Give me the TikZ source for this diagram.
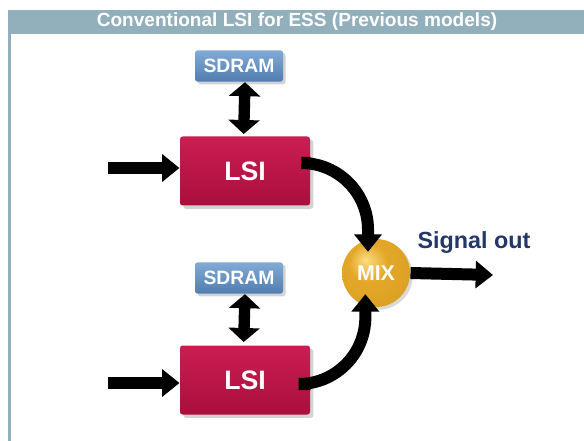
\documentclass[tikz,border=0pt]{standalone}
\usepackage{fontspec}
\setmainfont{Liberation Sans}
\usetikzlibrary{arrows.meta,shadows}

\definecolor{hdrgray}{RGB}{145,176,188}
\definecolor{lsitop}{RGB}{202,30,82}
\definecolor{lsibot}{RGB}{170,14,60}
\definecolor{ramtop}{RGB}{130,170,215}
\definecolor{rambot}{RGB}{80,125,175}
\definecolor{goldhi}{RGB}{250,220,130}
\definecolor{goldmid}{RGB}{228,168,40}
\definecolor{goldlo}{RGB}{160,100,15}
\definecolor{sigblue}{RGB}{35,55,105}

\pgfdeclareradialshading{goldball}{\pgfpoint{-8bp}{10bp}}{%
  color(0bp)=(goldhi); color(14bp)=(goldmid); color(34bp)=(goldmid!85!goldlo); color(50bp)=(goldlo)}

\tikzset{every picture/.style={line width=0.75pt}}
\tikzset{
  lsibox/.style={rectangle, rounded corners=2pt, minimum width=97.5pt, minimum height=51.75pt,
    top color=lsitop, bottom color=lsibot, draw=none, text=white,
    font=\fontsize{20}{20}\selectfont\bfseries,
    drop shadow={opacity=0.35, shadow xshift=2.5pt, shadow yshift=-2.5pt}},
  rambox/.style={rectangle, rounded corners=2pt, minimum width=66pt, minimum height=23.5pt,
    top color=ramtop, bottom color=rambot, draw=none, text=white,
    font=\fontsize{14.5}{14.5}\selectfont\bfseries,
    drop shadow={opacity=0.35, shadow xshift=2pt, shadow yshift=-2pt}},
  mixball/.style={circle, minimum size=51pt, shading=goldball, draw=none, text=white,
    font=\fontsize{16}{16}\selectfont\bfseries,
    drop shadow={opacity=0.3, shadow xshift=2pt, shadow yshift=-2pt}},
  fatarrow/.style={line width=9pt, -{Triangle[width=20pt,length=13pt]}},
  duplex/.style={line width=8.5pt, {Triangle[width=23pt,length=10.5pt]}-{Triangle[width=23pt,length=10.5pt]}},
}

\begin{document}
\begin{tikzpicture}[x=0.75pt,y=0.75pt,yscale=-1,xscale=1]
	\useasboundingbox (0,0) rectangle (584,441);

	% frame
	\fill [hdrgray] (8,10) rectangle (584,34);
	\fill [hdrgray] (8,34) rectangle (11,441);
	\node (title) at (297,22) [text=white, font=\fontsize{14.3}{14.3}\selectfont\bfseries] {Conventional LSI for ESS (Previous models)};

	% blocks
	\node (rama) at (239,66) [rambox] {SDRAM};
	\node (lsia) at (245,171) [lsibox] {LSI};
	\node (ramb) at (239,278) [rambox] {SDRAM};
	\node (lsib) at (245,380) [lsibox] {LSI};
	\node (mix) at (376,273) [mixball] {MIX};
	\node (sig) at (474,243) [text=sigblue, font=\fontsize{17.5}{17.5}\selectfont\bfseries] {Signal out};

	\coordinate (ina) at (108,168);
	\coordinate (inb) at (108,383);
	\coordinate (out) at (493,275);

	% connectors
	\draw [duplex] ([xshift=4.5]rama.south) -- ([xshift=-1]lsia.north |- 0,134);
	\draw [duplex] ([xshift=4.5]ramb.south) -- ([xshift=-1]lsib.north |- 0,342);
	\draw [fatarrow] (ina) -- (lsia.west |- ina);
	\draw [fatarrow] (inb) -- (lsib.west |- inb);
	\draw [fatarrow, rounded corners=50] ([yshift=-6]lsia.east) -| ([xshift=-6,yshift=10]mix.north);
	\draw [fatarrow, rounded corners=50] ([yshift=3]lsib.east) -| ([xshift=-8,yshift=-10]mix.south);
	\draw [fatarrow] (mix.east) -- (out);

\end{tikzpicture}
\end{document}
